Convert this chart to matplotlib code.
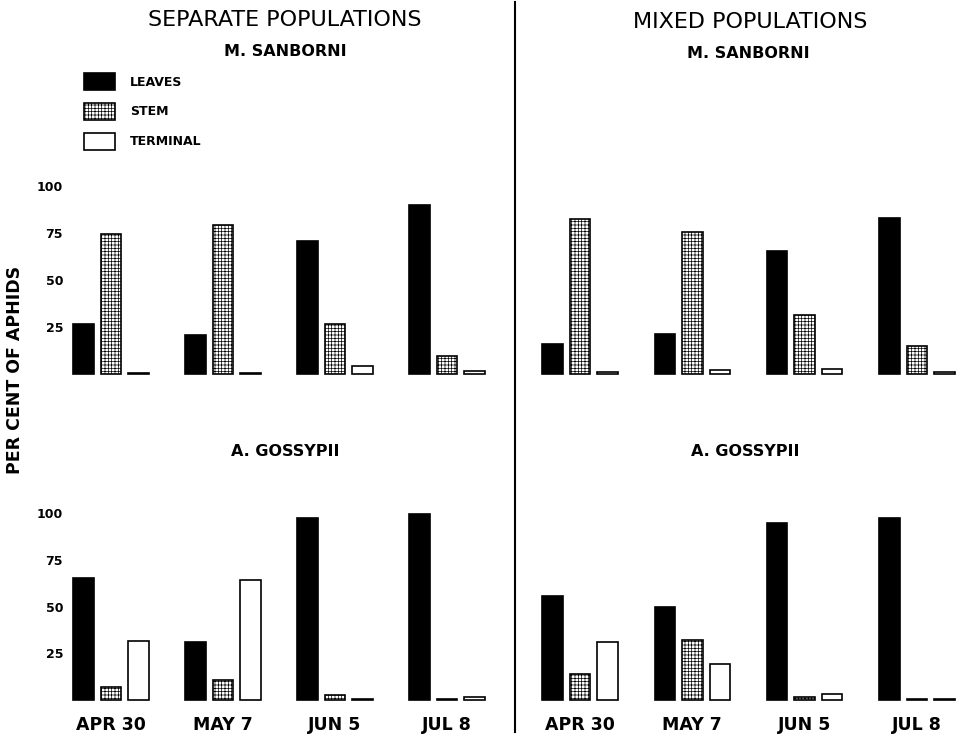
import matplotlib
matplotlib.use("Agg")
import matplotlib.pyplot as plt
from matplotlib.lines import Line2D
import numpy as np

# data (per cent of aphids on each plant part)
dates = ["APR 30", "MAY 7", "JUN 5", "JUL 8"]
parts = ["LEAVES", "STEM", "TERMINAL"]

sep_sanborni_leaves = [26.5, 21, 70.5, 90]
sep_sanborni_stem = [74.5, 79, 26.5, 9.5]
sep_sanborni_terminal = [0.5, 0.5, 4, 1.5]

mix_sanborni_leaves = [16, 21.5, 65.5, 83]
mix_sanborni_stem = [82.5, 75.5, 31.5, 15]
mix_sanborni_terminal = [1, 2.3, 2.6, 1]

sep_gossypii_leaves = [65, 31, 97.5, 99.5]
sep_gossypii_stem = [7, 10.5, 2.5, 0.3]
sep_gossypii_terminal = [31.5, 64, 0.4, 1.8]

mix_gossypii_leaves = [55.5, 50, 94.5, 97.5]
mix_gossypii_stem = [14, 32, 1.6, 0.3]
mix_gossypii_terminal = [31, 19, 3, 0.3]

yticks = [25, 50, 75, 100]

plt.rcParams["hatch.linewidth"] = 0.5
plt.rcParams["font.family"] = "DejaVu Sans"

W, H = 962, 737
fig = plt.figure(figsize=(W / 100, H / 100), dpi=100)


def px_axes(x0, x1, y_top, y_bot):
    return fig.add_axes([x0 / W, 1 - y_bot / H, (x1 - x0) / W, (y_bot - y_top) / H])


BAR_W = 0.183
OFF = 0.245


def draw(ax, leaves, stem, terminal, xlim, ylim, left, bottom):
    x = np.arange(len(dates))
    b1 = ax.bar(x - OFF, leaves, BAR_W, color="black", edgecolor="black", linewidth=1.2)
    b2 = ax.bar(x, stem, BAR_W, color="white", edgecolor="black", linewidth=1.2, hatch="+++++")
    b3 = ax.bar(x + OFF, terminal, BAR_W, color="white", edgecolor="black", linewidth=1.2)
    ax.set_xlim(*xlim)
    ax.set_ylim(*ylim)
    for s in ax.spines.values():
        s.set_visible(False)
    ax.tick_params(length=0)
    if left:
        ax.set_yticks(yticks)
        ax.set_yticklabels([str(t) for t in yticks], fontsize=9, fontweight="bold")
        ax.tick_params(axis="y", pad=5)
    else:
        ax.set_yticks([])
    if bottom:
        ax.set_xticks(x)
        ax.set_xticklabels(dates, fontsize=12.5, fontweight="bold")
        ax.tick_params(axis="x", pad=8)
    else:
        ax.set_xticks([])
    return b1, b2, b3


top_ylim = (-(380 - 374) / 1.88, (374 - 170) / 1.88)
bot_ylim = (-(705 - 700) / 1.87, (700 - 495) / 1.87)
left_xlim = ((70 - 111) / 112, (500 - 111) / 112)
right_xlim = ((525 - 580) / 112.3, (962 - 580) / 112.3)

ax1 = px_axes(70, 500, 170, 380)
bars = draw(ax1, sep_sanborni_leaves, sep_sanborni_stem, sep_sanborni_terminal,
            left_xlim, top_ylim, True, False)
ax2 = px_axes(525, 962, 170, 380)
draw(ax2, mix_sanborni_leaves, mix_sanborni_stem, mix_sanborni_terminal,
     right_xlim, top_ylim, False, False)
ax3 = px_axes(70, 500, 495, 705)
draw(ax3, sep_gossypii_leaves, sep_gossypii_stem, sep_gossypii_terminal,
     left_xlim, bot_ylim, True, True)
ax4 = px_axes(525, 962, 495, 705)
draw(ax4, mix_gossypii_leaves, mix_gossypii_stem, mix_gossypii_terminal,
     right_xlim, bot_ylim, False, True)

# titles
fig.text(285 / W, 1 - 20 / H, "SEPARATE POPULATIONS", ha="center", va="center", fontsize=16)
fig.text(750 / W, 1 - 22 / H, "MIXED POPULATIONS", ha="center", va="center", fontsize=16)
fig.text(285 / W, 1 - 52 / H, "M. SANBORNI", ha="center", va="center", fontsize=11.5, fontweight="bold")
fig.text(748 / W, 1 - 53 / H, "M. SANBORNI", ha="center", va="center", fontsize=11.5, fontweight="bold")
fig.text(285 / W, 1 - 451 / H, "A. GOSSYPII", ha="center", va="center", fontsize=11.5, fontweight="bold")
fig.text(745 / W, 1 - 451 / H, "A. GOSSYPII", ha="center", va="center", fontsize=11.5, fontweight="bold")
fig.text(15 / W, 1 - 370 / H, "PER CENT OF APHIDS", ha="center", va="center",
         rotation=90, fontsize=12.5, fontweight="bold")

# divider between the two halves
fig.add_artist(Line2D([515 / W, 515 / W], [1 - 2 / H, 1 - 732 / H], color="black", lw=1.5))

fig.legend(handles=list(bars), labels=parts, loc="upper left",
           bbox_to_anchor=(84 / W, 1 - 73 / H), frameon=False,
           handlelength=2.5, handleheight=1.75, handletextpad=1.2,
           labelspacing=1.0, borderpad=0, borderaxespad=0,
           prop={"size": 9, "weight": "bold"})

fig.savefig("out.png", dpi=100)
